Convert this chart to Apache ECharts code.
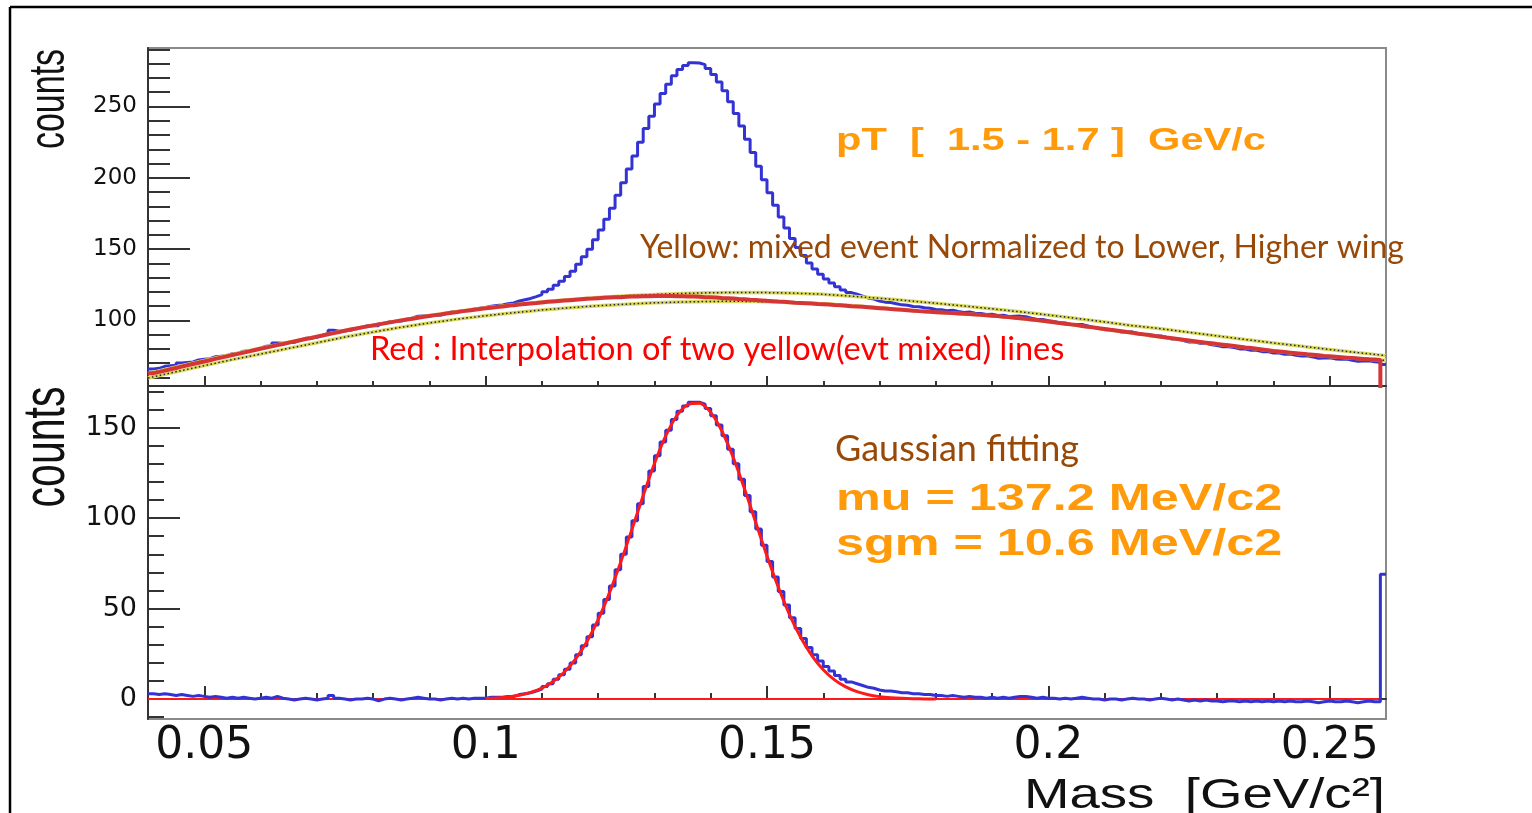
<!DOCTYPE html>
<html><head><meta charset="utf-8">
<script src="https://cdn.jsdelivr.net/npm/echarts@6/dist/echarts.min.js"></script>
<style>html,body{margin:0;padding:0;background:#fff;}#chart{width:1532px;height:813px;}</style>
</head><body><div id="chart"></div>
<script>
// ---- binning of the histograms (bin edges in GeV/c^2) ----
const binStart = 0.04;
const binWidth = 0.001;

// top pad: same-event invariant mass (blue histogram), 220 bins 0.040-0.260
const blueTop = [
66.0,66.4,67.8,68.2,68.6, 70.1,70.5,70.9,72.3,72.7, 73.1,74.5,74.9,75.3,76.7, 77.0,78.4,78.8,79.2,80.6,
81.9,82.3,84.2,84.0,84.4, 84.7,86.1,87.4,87.7,88.1, 89.4,90.8,93.1,92.4,92.8, 93.1,94.3,95.1,96.3,96.5,
96.2,97.9,99.1,99.3,99.5, 100.6,101.7,102.9,103.0,103.1, 103.7,103.7,104.8,105.9,105.9, 107.0,107.0,108.0,108.5,109.0,
109.9,110.4,110.8,111.7,112.2, 113.6,114.5,115.4,116.7,118.1, 120.0,121.8,124.6,127.4,130.7, 134.5,139.3,144.6,149.8,156.6,
163.3,171.0,178.7,187.8,196.5, 206.2,215.3,224.9,234.5,243.1, 251.7,259.1,265.6,271.5,275.9, 278.8,280.7,280.5,279.3,276.7,
272.5,267.2,261.0,253.3,245.0, 236.3,227.0,217.8,208.0,198.7, 189.5,180.7,172.5,164.7,157.4, 151.2,145.5,140.3,136.0,132.3,
129.1,126.3,123.6,121.3,119.5, 118.3,117.0,115.7,114.9,113.6, 112.8,112.5,111.7,110.9,110.6, 109.8,109.5,108.8,108.5,107.7,
107.5,106.8,107.1,106.3,105.6, 105.9,105.1,104.9,104.1,104.3, 103.5,103.6,102.8,102.9,103.0, 102.6,101.6,100.7,100.7,99.7,
99.2,98.2,98.2,97.2,97.2, 97.1,96.1,95.1,94.5,93.5, 93.4,92.9,91.9,91.8,91.8, 90.7,90.2,89.2,89.1,89.1,
88.0,87.0,87.0,85.9,84.9, 84.9,83.9,83.9,82.9,82.4, 81.5,81.5,81.0,80.0,80.0, 79.1,79.1,78.1,78.1,77.1,
77.2,76.3,76.4,75.5,75.1, 75.2,74.4,73.5,73.6,73.8, 73.0,72.7,72.9,72.1,71.3, 71.5,71.7,71.0,70.7,69.0
];

// top pad: interpolated mixed-event background (red histogram)
const redTop = [
63.0,63.9,64.8,65.7,66.6, 67.6,68.5,69.4,70.3,71.2, 72.1,73.0,73.9,74.8,75.7, 76.5,77.4,78.3,79.2,80.1,
80.9,81.8,82.7,83.5,84.4, 85.2,86.1,86.9,87.7,88.6, 89.4,90.3,91.1,91.9,92.8, 93.6,94.3,95.1,95.8,96.5,
97.2,97.9,98.6,99.3,100.0, 100.6,101.2,101.9,102.5,103.1, 103.7,104.2,104.8,105.4,105.9, 106.5,107.0,107.5,108.0,108.5,
108.9,109.4,109.8,110.2,110.7, 111.1,111.5,111.9,112.2,112.6, 113.0,113.3,113.6,113.9,114.2, 114.5,114.8,115.1,115.3,115.6,
115.8,116.0,116.2,116.3,116.5, 116.7,116.8,116.9,117.0,117.1, 117.2,117.1,117.1,117.0,116.9, 116.8,116.7,116.5,116.3,116.2,
116.0,115.7,115.5,115.3,115.0, 114.8,114.5,114.3,114.0,113.7, 113.5,113.2,113.0,112.7,112.4, 112.2,112.0,111.8,111.5,111.3,
111.1,110.8,110.6,110.3,110.0, 109.8,109.5,109.2,108.9,108.6, 108.3,108.0,107.7,107.4,107.1, 106.8,106.5,106.3,106.0,105.7,
105.5,105.3,105.1,104.8,104.6, 104.4,104.1,103.9,103.6,103.3, 103.0,102.6,102.3,101.9,101.5, 101.1,100.6,100.2,99.7,99.2,
98.7,98.2,97.7,97.2,96.7, 96.1,95.6,95.1,94.5,94.0, 93.4,92.9,92.4,91.8,91.3, 90.7,90.2,89.7,89.1,88.6,
88.0,87.5,87.0,86.4,85.9, 85.4,84.9,84.4,83.9,83.4, 83.0,82.5,82.0,81.5,81.0, 80.6,80.1,79.6,79.1,78.6,
78.2,77.8,77.4,77.0,76.6, 76.2,75.9,75.5,75.1,74.8, 74.5,74.2,73.9,73.6,73.3, 73.0,72.7,72.5,72.2,0
];

// bottom pad: background-subtracted signal (blue histogram)
const blueBottom = [
3,2.5,3,2.5,2, 2.5,2,1.5,2,1.5, 1,1.5,1,0.5,1, 0.5,1,0.5,0,0.5,
1,0.5,1.5,0.5,0, -0.5,0,0.5,0,-0.5, 0,0.5,2,0.5,0, -0.5,0,0,0.5,0,
-1,0,0.5,0,-0.5, 0,0.5,1,0.5,0, 0,-0.5,0,0.5,0, 0.5,0,0.5,0.5,0.5,
1,1,1,1.5,1.5, 2.5,3,3.5,4.5,5.5, 7,8.5,11,13.5,16.5, 20,24.5,29.5,34.5,41,
47.5,55,62.5,71.5,80, 89.5,98.5,108,117.5,126, 134.5,142,148.5,154.5,159, 162,164,164,163,160.5,
156.5,151.5,145.5,138,130, 121.5,112.5,103.5,94,85, 76,67.5,59.5,52,45, 39,33.5,28.5,24.5,21,
18,15.5,13,11,9.5, 8.5,7.5,6.5,6,5, 4.5,4.5,4,3.5,3.5, 3,3,2.5,2.5,2,
2,1.5,2,1.5,1, 1.5,1,1,0.5,1, 0.5,1,0.5,1,1.5, 1.5,1,0.5,1,0.5,
0.5,0,0.5,0,0.5, 1,0.5,0,0,-0.5, 0,0,-0.5,0,0.5, 0,0,-0.5,0,0.5,
0,-0.5,0,-0.5,-1, -0.5,-1,-0.5,-1,-1, -1.5,-1,-1,-1.5,-1, -1.5,-1,-1.5,-1,-1.5,
-1,-1.5,-1,-1.5,-1.5, -1,-1.5,-2,-1.5,-1, -1.5,-1.5,-1,-1.5,-2, -1.5,-1,-1.5,-1.5,69
];

// mixed-event backgrounds (yellow), sampled every 0.005 from 0.040 to 0.260
const mixStart = 0.04;
const mixStep = 0.005;
const yellowUpper = [62.8,67.4,71.9,76.3,80.5,84.7,88.8,92.9,96.6,100.2,103.4,106.3,108.8,111.0,112.9,114.6,116.1,117.3,118.2,118.9,
119.4,119.6,119.5,119.1,118.3,117.0,115.5,113.8,112.0,110.1,108.1,106.0,103.8,101.4,98.9,96.3,94.2,91.6,89.1,86.6,84.2,81.9,79.6,77.4,75.3];
const yellowLower = [59.6,64.0,68.3,72.5,76.4,80.4,84.3,88.3,91.8,95.2,98.2,100.9,103.3,105.4,107.3,108.9,110.3,111.4,112.3,112.9,
113.3,113.4,113.0,112.4,111.6,110.4,108.9,107.2,105.7,104.6,103.3,101.4,99.1,96.5,93.8,91.1,88.4,85.7,83.3,80.9,78.5,76.5,74.7,73.2,71.9];

// Gaussian fit curve (bottom pad), sampled every 0.002 from 0.100 to 0.180
const fitStart = 0.100;
const fitStep = 0.002;
const gausFit = [0.35,0.66,1.22,2.15,3.69,6.09,9.72,14.95,22.2,31.8,43.9,58.7,75.6,93.8,112.5,130.2,145.4,156.7,162.9,163.5,
158.4,148.0,133.5,116.2,97.6,79.1,61.9,46.7,34.0,23.9,16.2,10.6,6.71,4.10,2.41,1.37,0.75,0.40,0.20,0.10,0.05];

// zero reference line in the bottom pad
const zeroLineX = [0.04, 0.259];
const zeroLineY = [0, 0];

// ticks
const xMajorTicks = [0.05, 0.1, 0.15, 0.2, 0.25];
const xMinorTicks = [0.05,0.06,0.07,0.08,0.09,0.1,0.11,0.12,0.13,0.14,0.15,0.16,0.17,0.18,0.19,0.2,0.21,0.22,0.23,0.24,0.25];
const topYMajor = [100, 150, 200, 250];
const topYMinor = [60,70,80,90,110,120,130,140,160,170,180,190,210,220,230,240,260,270,280,290];
const botYMajor = [0, 50, 100, 150];
const botYMinor = [-10,10,20,30,40,60,70,80,90,110,120,130,140,160,170];

const xRange = [0.04, 0.26];
const topYRange = [54, 291];
const botYRange = [-11, 173];

function hist(arr) {
  const d = arr.map((v, i) => [+(binStart + i * binWidth).toFixed(4), v]);
  d.push([+(binStart + arr.length * binWidth).toFixed(4), arr[arr.length - 1]]);
  return d;
}
function pts(arr, start, step) {
  return arr.map((v, i) => [+(start + i * step).toFixed(4), v]);
}

const AX = '#333';
const tickFont = 'DejaVu Sans';
const helv = '"Liberation Sans", Arial, sans-serif';

function xAx(grid, ticks, len, labels) {
  return {
    type: 'value', gridIndex: grid, min: xRange[0], max: xRange[1], position: 'bottom',
    axisLine: { show: !!labels || len > 7, lineStyle: { color: AX, width: 2 } },
    axisTick: { show: true, inside: true, length: len, customValues: ticks, lineStyle: { color: AX, width: 2 } },
    axisLabel: labels ? {
      show: true, customValues: xMajorTicks, margin: 6, color: '#111', fontFamily: tickFont, fontSize: 44,
      formatter: v => String(parseFloat((+v).toFixed(3)))
    } : { show: false },
    splitLine: { show: false }
  };
}
function yAx(grid, range, ticks, len, labels, fs) {
  return {
    type: 'value', gridIndex: grid, min: range[0], max: range[1], position: 'left',
    axisLine: { show: !!labels, lineStyle: { color: AX, width: 2 } },
    axisTick: { show: true, inside: true, length: len, customValues: ticks, lineStyle: { color: AX, width: 2 } },
    axisLabel: labels ? { show: true, customValues: labels, margin: 11, color: '#111', fontFamily: tickFont, fontSize: fs } : { show: false },
    splitLine: { show: false }
  };
}

const lineBase = { type: 'line', showSymbol: false, symbol: 'none', silent: true, animation: false };

const option = {
  animation: false,
  backgroundColor: '#fff',
  grid: [
    { left: 148, top: 48, width: 1238, height: 338, show: true, borderColor: '#8a8a8a', borderWidth: 2, backgroundColor: 'transparent' },
    { left: 148, top: 386, width: 1238, height: 333, show: true, borderColor: '#8a8a8a', borderWidth: 2, backgroundColor: 'transparent' }
  ],
  xAxis: [
    xAx(0, xMajorTicks, 10, false),
    xAx(0, xMinorTicks, 5, false),
    xAx(1, xMajorTicks, 13, true),
    xAx(1, xMinorTicks, 6, false)
  ],
  yAxis: [
    yAx(0, topYRange, topYMajor, 42, topYMajor, 23),
    yAx(0, topYRange, topYMinor, 22, null),
    yAx(1, botYRange, botYMajor, 32, botYMajor, 27),
    yAx(1, botYRange, botYMinor, 16, null)
  ],
  series: [
    Object.assign({}, lineBase, { name: 'same event', xAxisIndex: 0, yAxisIndex: 0, step: 'end', data: hist(blueTop),
      lineStyle: { color: '#3333d4', width: 3 }, z: 2 }),
    Object.assign({}, lineBase, { name: 'mixed upper band', xAxisIndex: 0, yAxisIndex: 0, data: pts(yellowUpper, mixStart, mixStep),
      lineStyle: { color: '#d8d860', width: 3.5 }, z: 3 }),
    Object.assign({}, lineBase, { name: 'mixed upper', xAxisIndex: 0, yAxisIndex: 0, data: pts(yellowUpper, mixStart, mixStep),
      lineStyle: { color: '#222', width: 1.5, type: [1.5, 2.5] }, z: 4 }),
    Object.assign({}, lineBase, { name: 'mixed lower band', xAxisIndex: 0, yAxisIndex: 0, data: pts(yellowLower, mixStart, mixStep),
      lineStyle: { color: '#d8d860', width: 3.5 }, z: 3 }),
    Object.assign({}, lineBase, { name: 'mixed lower', xAxisIndex: 0, yAxisIndex: 0, data: pts(yellowLower, mixStart, mixStep),
      lineStyle: { color: '#222', width: 1.5, type: [1.5, 2.5] }, z: 4 }),
    Object.assign({}, lineBase, { name: 'interpolation', xAxisIndex: 0, yAxisIndex: 0, step: 'end', data: hist(redTop),
      lineStyle: { color: '#d53535', width: 4 }, z: 5 }),

    Object.assign({}, lineBase, { name: 'zero', xAxisIndex: 2, yAxisIndex: 2, data: zeroLineX.map((x, i) => [x, zeroLineY[i]]),
      lineStyle: { color: '#ff1a1a', width: 2 }, z: 2 }),
    Object.assign({}, lineBase, { name: 'signal', xAxisIndex: 2, yAxisIndex: 2, step: 'end', data: hist(blueBottom),
      lineStyle: { color: '#3333d4', width: 3 }, z: 3 }),
    Object.assign({}, lineBase, { name: 'gaus fit', xAxisIndex: 2, yAxisIndex: 2, smooth: 0.3, data: pts(gausFit, fitStart, fitStep),
      lineStyle: { color: '#ff1a1a', width: 3 }, z: 4 })
  ],
  graphic: [
    { type: 'line', z: 100, shape: { x1: 10, y1: 7, x2: 1532, y2: 7 }, style: { stroke: '#000', lineWidth: 2.5 } },
    { type: 'line', z: 100, shape: { x1: 10, y1: 7, x2: 10, y2: 813 }, style: { stroke: '#000', lineWidth: 2.5 } },
    { type: 'text', z: 100, x: 50, y: 99, rotation: Math.PI / 2, scaleY: 1.45,
      style: { text: 'counts', fill: '#111', fontFamily: helv, fontSize: 34, textAlign: 'center', textVerticalAlign: 'middle' } },
    { type: 'text', z: 100, x: 48, y: 447, rotation: Math.PI / 2, scaleY: 1.45,
      style: { text: 'counts', fill: '#111', fontFamily: helv, fontSize: 41, textAlign: 'center', textVerticalAlign: 'middle' } },
    { type: 'text', z: 100, x: 1385, y: 796, scaleX: 1.3,
      style: { text: 'Mass  [GeV/c\u00B2]', fill: '#111', fontFamily: helv, fontSize: 42, textAlign: 'right', textVerticalAlign: 'middle' } },
    { type: 'text', z: 100, x: 836, y: 141, scaleX: 1.3,
      style: { text: 'pT  [  1.5 - 1.7 ]  GeV/c', fill: '#ff9a0a', fontFamily: helv, fontWeight: 'bold', fontSize: 32, textAlign: 'left', textVerticalAlign: 'middle' } },
    { type: 'text', z: 100, x: 640, y: 248,
      style: { text: 'Yellow: mixed event Normalized to Lower, Higher wing', fill: '#984807', fontFamily: 'Lato', fontSize: 32, textAlign: 'left', textVerticalAlign: 'middle' } },
    { type: 'text', z: 100, x: 370, y: 350,
      style: { text: 'Red : Interpolation of two yellow(evt mixed) lines', fill: '#ff0000', fontFamily: 'Lato', fontSize: 32.5, textAlign: 'left', textVerticalAlign: 'middle' } },
    { type: 'text', z: 100, x: 835, y: 449,
      style: { text: 'Gaussian fitting', fill: '#984807', fontFamily: 'Lato', fontSize: 36, textAlign: 'left', textVerticalAlign: 'middle' } },
    { type: 'text', z: 100, x: 836, y: 500, scaleX: 1.36,
      style: { text: 'mu = 137.2 MeV/c2', fill: '#ff9a0a', fontFamily: helv, fontWeight: 'bold', fontSize: 37, textAlign: 'left', textVerticalAlign: 'middle' } },
    { type: 'text', z: 100, x: 836, y: 545, scaleX: 1.36,
      style: { text: 'sgm = 10.6 MeV/c2', fill: '#ff9a0a', fontFamily: helv, fontWeight: 'bold', fontSize: 37, textAlign: 'left', textVerticalAlign: 'middle' } }
  ]
};

const chart = echarts.init(document.getElementById('chart'), null, { renderer: 'canvas' });
chart.setOption(option);
</script>
</body></html>
